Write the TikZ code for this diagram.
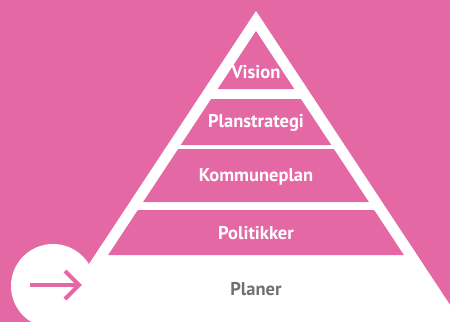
\documentclass[tikz,border=0pt]{standalone}
\usepackage{fontspec}
\setmainfont{PT Sans}
\definecolor{rosa}{RGB}{228,104,164}
\definecolor{graa}{RGB}{112,112,112}

\begin{document}
\begin{tikzpicture}[x=1pt, y=-1pt,
  band/.style={fill=rosa},
  lbl/.style={text=white, font=\bfseries\fontsize{18.5}{21}\selectfont},
  pil/.style={draw=rosa, line width=4pt}]
\useasboundingbox (0,0) rectangle (450,322);
\clip (0,0) rectangle (450,322);
\fill[rosa] (0,0) rectangle (450,322);
% white pyramid
\fill[white] (256,11) -- (50.7,322) -- (461.3,322) -- cycle;
% pink levels
\fill[band] (256,31) -- (217.7,89) -- (294.3,89) -- cycle;
\foreach \t/\b in {99/145, 149/202, 210/255}
  \fill[band] ({256-0.66*(\t-31)},\t) -- ({256+0.66*(\t-31)},\t)
    -- ({256+0.66*(\b-31)},\b) -- ({256-0.66*(\b-31)},\b) -- cycle;
\fill[white] (53,286) circle [radius = 42];
% labels
\node[lbl] (vision) at (256,72) {Vision};
\node[lbl] (strategi) at (256,123) {Planstrategi};
\node[lbl] (kplan) at (256,177) {Kommuneplan};
\node[lbl] (politikk) at (256,233) {Politikker};
\node[lbl, text=graa] (planer) at (256,289) {Planer};
% arrow
\coordinate (pa) at (30,285);
\coordinate (pb) at (79,285);
\coordinate (pt) at (65,271);
\coordinate (pu) at (65,299);
\draw[pil] (pa) -- (pb);
\draw[pil] (pt) -- (pb) -- (pu);
\end{tikzpicture}
\end{document}
